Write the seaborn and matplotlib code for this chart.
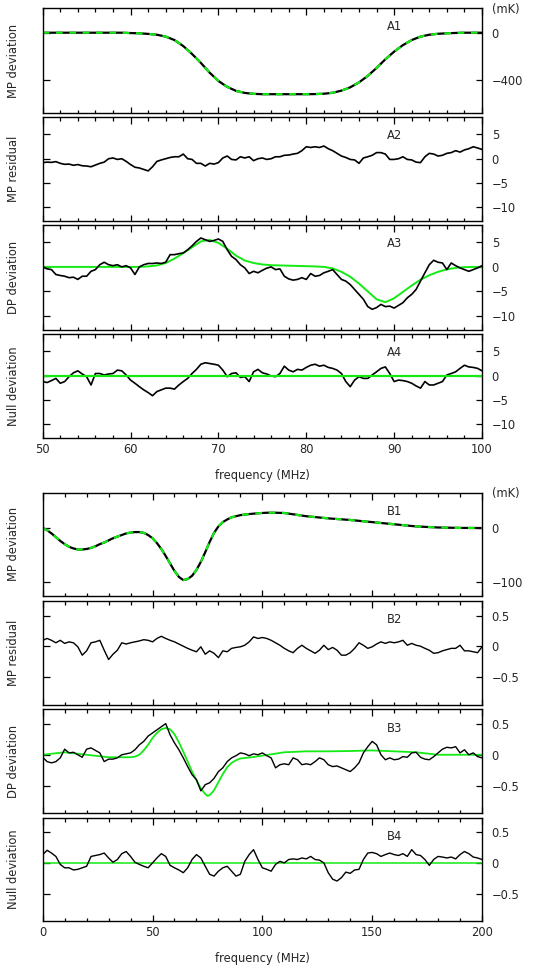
import numpy as np
import pandas as pd
import matplotlib
matplotlib.use("Agg")
import matplotlib.pyplot as plt
from matplotlib.ticker import MultipleLocator, NullLocator
import seaborn as sns

# ---------------- data ----------------
# Group A: 50-100 MHz
A_freq_fine = np.linspace(50, 100, 101)      # 0.5 MHz sampling
A_freq_model = np.linspace(50, 100, 51)      # 1 MHz sampling

A1_model = [0, 0, 0, 0, 0, 0, 0, 0, 0, 0,
            -3, -5, -10, -17, -33, -62, -113, -180, -255, -338,
            -408, -458, -492, -509, -517, -520, -520, -520, -520, -520,
            -520, -519, -516, -508, -490, -462, -420, -365, -298, -225,
            -160, -105, -62, -33, -17, -9, -5, -2, 0, 0, 0]

A2_resid = [-0.8, -0.7, -0.75, -0.6, -0.95, -1.15, -1.1, -1.35, -1.2, -1.45,
            -1.5, -1.65, -1.3, -0.95, -0.7, 0, 0.15, -0.15, 0, -0.55,
            -1.2, -1.75, -1.9, -2.2, -2.5, -1.65, -0.55, -0.25, 0, 0.25,
            0.4, 0.4, 0.95, 0, -0.15, -0.95, -0.95, -1.5, -0.95, -1.1,
            -0.8, 0.15, 0.55, -0.15, -0.25, 0.4, 0.15, 0.4, -0.4, 0,
            0.15, -0.15, 0, 0.4, 0.4, 0.7, 0.75, 0.95, 1.1, 1.65,
            2.45, 2.3, 2.45, 2.3, 2.6, 2.05, 1.65, 1.1, 0.55, 0.25,
            -0.15, -0.25, -0.95, 0.15, 0.4, 0.7, 1.25, 1.25, 0.95, -0.15,
            -0.15, 0, 0.4, -0.15, -0.25, -0.7, -0.8, 0.4, 1.1, 0.95,
            0.55, 0.7, 1.1, 1.25, 1.65, 1.35, 1.8, 2.05, 2.45, 2.2,
            1.9]

A3_data = [0, -0.4, -0.55, -1.55, -1.75, -1.9, -2.2, -2.1, -2.55, -1.9,
           -1.9, -0.9, -0.55, 0.45, 0.95, 0.45, 0.25, 0.45, 0, 0.25,
           -0.2, -1.55, 0, 0.45, 0.7, 0.7, 0.8, 0.7, 0.95, 2.5,
           2.5, 2.7, 2.85, 3.5, 4.3, 5.2, 5.9, 5.55, 5.2, 5.4,
           5.7, 5.2, 3.5, 2.15, 1.5, 0.45, -0.2, -1.35, -0.9, -1.2,
           -0.7, -0.25, 0, -0.55, -0.4, -1.9, -2.45, -2.7, -2.55, -2.2,
           -2.55, -1.35, -1.9, -1.75, -1.2, -0.9, -0.55, -1.55, -2.55, -2.9,
           -3.6, -4.6, -5.6, -6.6, -8.1, -8.65, -8.3, -7.65, -8.1, -8.0,
           -8.4, -7.85, -7.3, -6.3, -5.6, -4.6, -2.9, -1.2, 0.45, 1.35,
           0.95, 0.8, -0.55, 0.8, 0.25, -0.2, -0.55, -0.9, -0.55, -0.2,
           0.25]

A3_model = [0, 0, 0, 0, 0, 0, 0, 0, 0, 0, 0, 0,
            0.1, 0.3, 0.8, 1.7, 2.8, 4.0, 5.2, 5.5, 4.9, 3.7,
            2.3, 1.3, 0.8, 0.5, 0.35, 0.3, 0.25, 0.2, 0.15, 0.1,
            0.0, -0.3, -1.0, -2.0, -3.4, -5.0, -6.6, -7.2, -6.4, -5.1,
            -3.8, -2.6, -1.7, -1.0, -0.5, -0.2, -0.05, 0, 0]

A4_data = [-1.2, -1.4, -1.0, -0.55, -1.55, -1.2, -0.2, 0.6, 1.0, 0.35,
           -0.2, -1.9, 0.45, 0.45, 0.15, 0.35, 0.45, 1.15, 1.0, 0.15,
           -0.9, -1.55, -2.25, -2.9, -3.45, -4.1, -3.25, -2.9, -2.55, -2.55,
           -2.75, -1.9, -1.2, -0.55, 0.45, 1.3, 2.35, 2.65, 2.5, 2.35,
           2.15, 1.15, -0.2, 0.45, 0.6, -0.35, -0.2, -1.2, 0.8, 1.3,
           0.6, 0.35, -0.05, -0.2, 0.45, 1.95, 1.15, 0.8, 1.3, 1.15,
           1.7, 2.15, 2.35, 1.95, 2.15, 1.7, 1.5, 1.15, 0.45, -1.2,
           -2.25, -0.9, -0.2, -0.55, -0.55, 0.15, 0.8, 1.5, 1.8, 0.45,
           -1.2, -0.9, -1.0, -1.2, -1.55, -2.1, -2.55, -1.2, -1.9, -1.9,
           -1.55, -1.2, 0.15, 0.45, 0.8, 1.5, 2.15, 1.8, 1.7, 1.5,
           1.0]

A_null_freq = [50, 100]
A_null_model = [0, 0]

# Group B: 0-200 MHz
B_freq_fine = np.linspace(0, 200, 101)       # 2 MHz sampling

B1_freq = [0, 2, 4, 6, 8, 10, 12, 14, 16, 18,
           20, 22, 24, 26, 28, 30, 32, 34, 36, 38,
           40, 42, 44, 46, 48, 50, 52, 54, 56, 58,
           60, 62, 64, 66, 68, 70, 72, 74, 76, 78,
           80, 82, 84, 86, 88, 90, 94, 98, 102, 106, 110,
           120, 130, 140, 150, 160, 170, 180, 190, 200]
B1_model = [0, -4, -10, -17, -24, -30, -35, -38, -40, -40,
            -39, -37, -34, -30, -27, -23, -19, -16, -13, -10,
            -8.5, -7.5, -7.5, -9, -13, -19, -28, -39, -52, -66,
            -80, -91, -97, -95, -89, -78, -63, -45, -26, -9,
            3, 11, 16, 20, 22, 24, 26, 27.5, 28.5, 28.5, 28,
            22, 18, 15, 11, 7, 3, 1, 0.2, 0]

B2_resid = [0.1, 0.13, 0.1, 0.06, 0.1, 0.05, 0.075, 0.06, -0.005, -0.14,
            -0.07, 0.06, 0.075, 0.1, -0.06, -0.21, -0.125, -0.06, 0.06, 0.04,
            0.06, 0.075, 0.09, 0.11, 0.1, 0.075, 0.13, 0.165, 0.13, 0.1,
            0.075, 0.04, 0.005, -0.03, -0.06, -0.085, -0.005, -0.125, -0.07, -0.11,
            -0.18, -0.07, -0.085, -0.03, -0.015, -0.005, 0.02, 0.075, 0.155, 0.13,
            0.145, 0.13, 0.1, 0.06, 0.02, -0.03, -0.07, -0.1, -0.03, 0.02,
            -0.03, -0.07, -0.11, -0.06, 0.02, -0.05, -0.015, -0.06, -0.14, -0.14,
            -0.1, -0.03, 0.06, 0.02, -0.03, -0.005, 0.04, 0.075, 0.05, 0.075,
            0.06, 0.075, 0.1, 0.02, 0.05, 0.02, 0.005, -0.03, -0.06, -0.11,
            -0.1, -0.07, -0.05, -0.03, -0.03, 0.02, -0.07, -0.07, -0.085, -0.1,
            -0.005]

B3_data = [-0.04, -0.11, -0.13, -0.11, -0.05, 0.09, 0.03, 0.04, 0, -0.04,
           0.09, 0.11, 0.07, 0.03, -0.11, -0.07, -0.07, -0.05, 0, 0.015,
           0.03, 0.08, 0.16, 0.215, 0.3, 0.35, 0.4, 0.45, 0.5, 0.32,
           0.19, 0.08, -0.05, -0.19, -0.32, -0.4, -0.58, -0.48, -0.45, -0.38,
           -0.27, -0.21, -0.11, -0.05, -0.015, 0.03, 0.015, -0.015, 0.015, 0,
           0.03, -0.015, -0.05, -0.21, -0.16, -0.145, -0.16, -0.05, -0.08, -0.16,
           -0.145, -0.16, -0.11, -0.05, -0.08, -0.16, -0.19, -0.18, -0.21, -0.24,
           -0.27, -0.21, -0.13, 0.03, 0.13, 0.215, 0.16, 0, -0.08, -0.05,
           -0.08, -0.07, -0.03, -0.04, 0.03, 0.04, -0.04, -0.07, -0.08, -0.03,
           0.03, 0.09, 0.12, 0.11, 0.13, 0.03, 0.08, 0, 0.03, -0.03,
           -0.05]

B3_model_freq = [0, 10, 20, 30, 40, 42, 44, 46, 48, 50, 52, 54, 56, 58, 60,
                 62, 64, 66, 68, 70, 72, 74, 75, 76, 78, 80, 82, 84, 86, 88,
                 90, 95, 100, 110, 120, 130, 140, 150, 160, 170, 180, 190, 200]
B3_model = [0, 0.04, 0, -0.04, -0.04, -0.03, 0.0, 0.07, 0.16, 0.27, 0.35,
            0.41, 0.43, 0.41, 0.33, 0.2, 0.05, -0.11, -0.27, -0.41, -0.54,
            -0.63, -0.66, -0.65, -0.57, -0.44, -0.31, -0.2, -0.13, -0.09,
            -0.06, -0.04, -0.015, 0.04, 0.055, 0.055, 0.06, 0.07, 0.055,
            0.04, 0.0, 0.0, 0.0]

B4_data = [0.14, 0.21, 0.165, 0.11, -0.02, -0.075, -0.075, -0.11, -0.1, -0.075,
           -0.05, 0.11, 0.125, 0.14, 0.165, 0.085, 0.015, 0.06, 0.155, 0.19,
           0.11, 0.015, -0.02, -0.05, -0.075, 0.005, 0.085, 0.155, 0.11, -0.035,
           -0.075, -0.11, -0.155, -0.075, 0.06, 0.14, 0.085, -0.05, -0.18, -0.21,
           -0.13, -0.075, -0.05, -0.13, -0.21, -0.18, 0.03, 0.14, 0.22, 0.06,
           -0.075, -0.1, -0.13, -0.02, 0.03, 0.005, 0.06, 0.07, 0.06, 0.085,
           0.07, 0.11, 0.06, 0.05, 0.005, -0.155, -0.26, -0.29, -0.235, -0.145,
           -0.165, -0.11, -0.1, 0.06, 0.165, 0.175, 0.155, 0.11, 0.14, 0.165,
           0.14, 0.125, 0.155, 0.11, 0.22, 0.14, 0.125, 0.06, -0.035, 0.06,
           0.11, 0.1, 0.085, 0.1, 0.07, 0.14, 0.19, 0.155, 0.1, 0.085,
           0.06]

B_null_freq = [0, 200]
B_null_model = [0, 0]

# axis texts
panel_names_A = ["A1", "A2", "A3", "A4"]
panel_names_B = ["B1", "B2", "B3", "B4"]
ylabels = ["MP deviation", "MP residual", "DP deviation", "Null deviation"]
A1_yticks = [0, -400]
A1_yticklabels = ["0", "\u2212400"]
A_yticks = [5, 0, -5, -10]
A_yticklabels = ["5", "0", "\u22125", "\u221210"]
B1_yticks = [0, -100]
B1_yticklabels = ["0", "\u2212100"]
B_yticks = [0.5, 0, -0.5]
B_yticklabels = ["0.5", "0", "\u22120.5"]

# ---------------- style ----------------
sns.set_theme(style="ticks")
plt.rcParams['font.family'] = ['DejaVu Sans']
plt.rcParams['axes.linewidth'] = 1.0
FS = 8.3
GREEN = '#14ea14'
PX = 72.0 / 100.0   # points per pixel at dpi 100

W, H = 559.0, 968.0
X0, X1 = 42.7, 482.0

fig = plt.figure(figsize=(W / 100, H / 100), dpi=100)
fig.patch.set_facecolor('white')


def make_ax(top, bottom):
    return fig.add_axes([X0 / W, 1 - bottom / H, (X1 - X0) / W, (bottom - top) / H])


def style(ax, xlim, xmaj, xmin, ylim, yt, ytl, ylabel, name, show_x):
    ax.set_facecolor('white')
    ax.set_xlim(xlim)
    ax.set_ylim(ylim)
    ax.xaxis.set_major_locator(MultipleLocator(xmaj))
    ax.xaxis.set_minor_locator(MultipleLocator(xmin))
    ax.yaxis.set_minor_locator(NullLocator())
    ax.set_yticks(yt)
    ax.set_yticklabels(ytl)
    ax.tick_params(axis='x', which='both', direction='in', top=True, bottom=True,
                   labelbottom=show_x, labelsize=FS, pad=3.5, width=0.9, color='black')
    ax.tick_params(axis='x', which='major', length=6.5 * PX)
    ax.tick_params(axis='x', which='minor', length=3.5 * PX)
    ax.tick_params(axis='y', which='major', direction='in', left=True, right=True,
                   labelleft=False, labelright=True, labelsize=FS, pad=7,
                   length=6.5 * PX, width=0.9, color='black')
    for s in ax.spines.values():
        s.set_visible(True)
        s.set_color('black')
        s.set_linewidth(1.0)
    ax.set_ylabel(ylabel, fontsize=FS)
    ax.yaxis.set_label_coords(-0.052, 0.5)
    ax.set_xlabel('')
    ax.text(0.80, 0.82, name, transform=ax.transAxes, ha='center', va='center', fontsize=FS)
    ax.grid(False)


def line(ax, x, y, color, lw, ls='-'):
    df = pd.DataFrame({'freq': x, 'T': y})
    sns.lineplot(data=df, x='freq', y='T', ax=ax, color=color, linewidth=lw,
                 linestyle=ls, errorbar=None, legend=False)


# ---------------- group A ----------------
A_bounds = [(8, 113), (117, 221), (225, 329.5), (334, 438)]
A_ylims = [(-679, 209), (-12.77, 8.55), (-12.77, 8.55), (-12.77, 8.55)]
axA = [make_ax(t, b) for t, b in A_bounds]

line(axA[0], A_freq_model, A1_model, 'black', 1.6)
line(axA[0], A_freq_model, A1_model, GREEN, 1.6, (0, (3, 3)))
line(axA[1], A_freq_fine, A2_resid, 'black', 1.2)
line(axA[2], A_freq_model, A3_model, GREEN, 1.4)
line(axA[2], A_freq_fine, A3_data, 'black', 1.2)
line(axA[3], A_freq_fine, A4_data, 'black', 1.2)
line(axA[3], A_null_freq, A_null_model, GREEN, 1.6)

for i, ax in enumerate(axA):
    yt, ytl = (A1_yticks, A1_yticklabels) if i == 0 else (A_yticks, A_yticklabels)
    style(ax, (50, 100), 10, 2, A_ylims[i], yt, ytl, ylabels[i], panel_names_A[i], i == 3)
axA[3].set_xlabel('frequency (MHz)', fontsize=FS)
axA[3].xaxis.set_label_coords(0.5, -0.30)
axA[0].text(1.022, 0.99, '(mK)', transform=axA[0].transAxes, ha='left', va='center', fontsize=FS)

# ---------------- group B ----------------
B_bounds = [(492.7, 596), (601.3, 704.7), (709.3, 813.3), (818.3, 921)]
B_ylims = [(-126.6, 65.8), (-0.94, 0.73), (-0.94, 0.73), (-0.94, 0.73)]
axB = [make_ax(t, b) for t, b in B_bounds]

line(axB[0], B1_freq, B1_model, 'black', 1.6)
line(axB[0], B1_freq, B1_model, GREEN, 1.6, (0, (3, 3)))
line(axB[1], B_freq_fine, B2_resid, 'black', 1.0)
line(axB[2], B3_model_freq, B3_model, GREEN, 1.3)
line(axB[2], B_freq_fine, B3_data, 'black', 1.0)
line(axB[3], B_null_freq, B_null_model, GREEN, 1.1)
line(axB[3], B_freq_fine, B4_data, 'black', 1.0)

for i, ax in enumerate(axB):
    yt, ytl = (B1_yticks, B1_yticklabels) if i == 0 else (B_yticks, B_yticklabels)
    style(ax, (0, 200), 50, 10, B_ylims[i], yt, ytl, ylabels[i], panel_names_B[i], i == 3)
axB[3].set_xlabel('frequency (MHz)', fontsize=FS)
axB[3].xaxis.set_label_coords(0.5, -0.30)
axB[0].text(1.022, 0.99, '(mK)', transform=axB[0].transAxes, ha='left', va='center', fontsize=FS)

fig.savefig('out.png', dpi=100, facecolor='white')
